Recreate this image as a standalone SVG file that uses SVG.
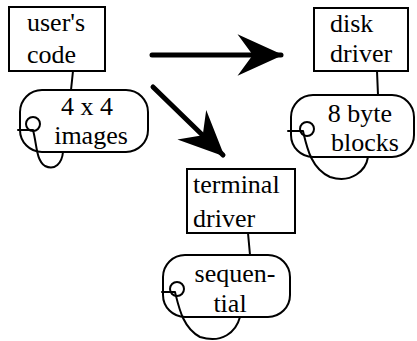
<svg xmlns="http://www.w3.org/2000/svg" width="417" height="341" viewBox="0 0 417 341">
<style>
.box{fill:#fff;stroke:#000;stroke-width:2}
.rbox{fill:#fff;stroke:#000;stroke-width:2}
text{font-family:"Liberation Serif","Times New Roman",serif;font-size:26px;fill:#000}
.c{text-anchor:middle}
.ln{fill:none;stroke:#000;stroke-width:2;stroke-linecap:round}
.arr{fill:none;stroke:#000;stroke-width:5;stroke-linecap:round}
</style>
<defs>
<marker id="ah" markerUnits="userSpaceOnUse" markerWidth="50" markerHeight="50" viewBox="-42 -22 46 44" refX="0" refY="0" orient="auto">
<path d="M2,0 L-40,-19 L-26,0 L-40,19 Z" fill="#000"/>
</marker>
</defs>
<g id="connectors">
<path class="arr" d="M152,55 L281,55" marker-end="url(#ah)"/>
<path class="arr" d="M153,87 L223,155" marker-end="url(#ah)"/>
<path class="ln" d="M73,71 L71,90"/>
<path class="ln" d="M377,71 L378,95"/>
<path class="ln" d="M248,233 L250,255"/>
</g>
<g id="users-code">
<rect class="box" x="9" y="7" width="96" height="64"/>
<text x="27" y="31">user's</text>
<text x="27" y="63">code</text>
</g>
<g id="images">
<rect class="rbox" x="20" y="90" width="128" height="62" rx="22" ry="22"/>
<text class="c" x="87" y="115">4 x 4</text>
<text class="c" x="91" y="144">images</text>
<circle class="ln" cx="33" cy="124" r="7"/>
<path class="ln" d="M18,130 L33,130 M33,130 C37,145 36,160 45,166 C55,171 62,163 63,152"/>
</g>
<g id="disk-driver">
<rect class="box" x="314" y="8" width="94" height="63"/>
<text x="330" y="32">disk</text>
<text x="330" y="62">driver</text>
</g>
<g id="blocks">
<rect class="rbox" x="291" y="95" width="123" height="62" rx="22" ry="22"/>
<text class="c" x="360" y="122">8 byte</text>
<text class="c" x="365" y="151">blocks</text>
<circle class="ln" cx="307" cy="129" r="7"/>
<path class="ln" d="M288,131 L303,131 M303,131 C307,148 311,168 330,177 C352,184 366,170 368,157"/>
</g>
<g id="terminal-driver">
<rect class="box" x="187" y="169" width="108" height="64"/>
<text x="193" y="193">terminal</text>
<text x="193" y="227">driver</text>
</g>
<g id="sequential">
<rect class="rbox" x="163" y="255" width="127" height="62" rx="22" ry="22"/>
<text class="c" x="235" y="282">sequen-</text>
<text class="c" x="230" y="312">tial</text>
<circle class="ln" cx="177" cy="289" r="7"/>
<path class="ln" d="M162,292 L175,292 M175,292 C179,308 183,328 200,337 C222,344 236,332 240,317"/>
</g>
</svg>
